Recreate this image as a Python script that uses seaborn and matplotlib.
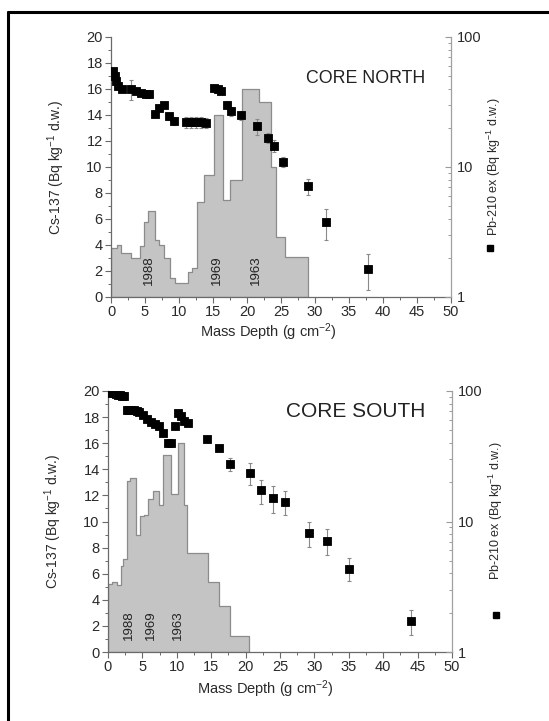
import numpy as np
import pandas as pd
import matplotlib
matplotlib.use("Agg")
import matplotlib.pyplot as plt
import seaborn as sns
from matplotlib.lines import Line2D
from matplotlib.ticker import MultipleLocator, LogLocator, NullFormatter, FixedLocator, FixedFormatter

# ---------------- data ----------------
# CORE NORTH  Cs-137 step histogram (bin edges in g cm-2, activity Bq/kg)
north_cs_edges = [0, 0.9, 1.5, 3.0, 4.2, 4.9, 5.5, 6.4, 7.1, 7.8, 8.7, 9.4, 11.3, 11.9,
                  12.7, 13.7, 15.2, 16.4, 17.5, 19.2, 21.7, 23.5, 24.3, 25.6, 29.0]
north_cs_values = [3.8, 4.0, 3.4, 3.0, 3.9, 5.8, 6.6, 4.4, 4.0, 3.0, 1.5, 1.1, 1.9, 2.2,
                   7.3, 9.4, 14.0, 7.5, 9.0, 16.0, 15.0, 10.0, 4.6, 3.1]
# CORE NORTH  Pb-210 ex
north_pb_depth = [0.3, 0.6, 0.8, 1.1, 1.6, 2.9, 3.7, 4.4, 5.1, 5.6, 6.4, 7.1, 7.8, 8.6, 9.3,
                  11.0, 11.8, 12.5, 13.2, 14.0, 15.2, 15.7, 16.2, 17.1, 17.6, 19.1, 21.5,
                  23.1, 23.9, 25.3, 28.9, 31.6, 37.8]
north_pb_values = [55, 50, 46, 42, 39.5, 39.5, 38.3, 37.2, 36.5, 36.3, 25.6, 28.5, 30.2, 24.5, 22.7,
                   22.1, 22.1, 22.1, 22.1, 21.8, 40.6, 39.5, 38.3, 30.2, 26.8, 25.0, 20.6,
                   16.8, 14.5, 11.0, 7.1, 3.76, 1.64]
north_pb_err = [2, 2, 2, 2, 2, 7, 2, 2, 2, 2, 1.5, 1.5, 1.5, 1.5, 1.5,
                2, 2, 2, 2, 2, 2, 2, 2, 2, 2, 2, 3,
                1.5, 1.5, 1.0, 1.05, 1.0, 0.5]

# CORE SOUTH  Cs-137 step histogram
south_cs_edges = [0, 0.6, 1.3, 1.9, 2.2, 2.7, 3.2, 4.0, 4.6, 5.2, 5.8, 6.6, 7.4, 8.0,
                  9.2, 10.2, 11.0, 11.5, 14.5, 16.1, 17.7, 20.5]
south_cs_values = [5.2, 5.4, 5.1, 6.6, 7.1, 13.1, 13.3, 9.0, 10.4, 10.5, 11.7, 12.3, 11.3,
                   15.1, 12.1, 16.0, 11.3, 7.6, 5.4, 3.5, 1.2]
# CORE SOUTH  Pb-210 ex
south_pb_depth = [0.2, 0.5, 0.8, 1.1, 1.4, 1.7, 2.0, 2.3, 2.7, 3.0, 3.4, 3.8, 4.2, 4.5,
                  5.1, 5.7, 6.3, 6.9, 7.4, 8.0, 8.7, 9.2, 9.7, 10.2, 10.6, 11.1, 11.6,
                  14.4, 16.2, 17.7, 20.7, 22.3, 24.0, 25.7, 29.2, 31.8, 35.1, 44.1]
south_pb_values = [98, 97, 96, 95, 94, 93, 92, 91, 71, 71, 71, 71, 70.5, 69,
                   66, 61.4, 57.9, 55.6, 53.9, 48.0, 39.7, 39.7, 54, 68, 64, 59, 57,
                   42.6, 36.4, 27.4, 23.4, 17.3, 15.2, 14.2, 8.2, 7.1, 4.35, 1.73]
south_pb_err = [1, 1, 1, 1, 1, 1, 1, 1, 1, 1, 1, 1, 1, 1,
                1, 1, 1, 1, 1, 1, 1.5, 1.5, 1.5, 1.5, 1.5, 1.5, 1.5,
                2, 2, 3, 4.5, 3.6, 3.5, 3, 1.8, 1.6, 0.86, 0.38]

year_labels = ["1988", "1969", "1963"]
north_year_depth = [5.6, 15.6, 21.3]
south_year_depth = [3.1, 6.3, 10.1]

x_ticks = [0, 5, 10, 15, 20, 25, 30, 35, 40, 45, 50]
cs_ticks = [0, 2, 4, 6, 8, 10, 12, 14, 16, 18, 20]
pb_ticks = [1, 10, 100]

# ---------------- style ----------------
sns.set_theme(style="ticks")
plt.rcParams["font.family"] = ["Liberation Sans", "DejaVu Sans"]
plt.rcParams["mathtext.fontset"] = "custom"
plt.rcParams["mathtext.rm"] = "Liberation Sans"
plt.rcParams["mathtext.it"] = "Liberation Sans"

TXT = "#2a2a2a"
SPINE = "#6a6a6a"
FILL = "#c4c4c4"
EDGE = "#8c8c8c"

fig = plt.figure(figsize=(5.49, 7.21), dpi=100)


def panel(rect, edges, values, pb_d, pb_v, pb_e, title, title_size, year_d, title_xy,
          xl_coords, yl_coords, yr_coords, sym_xy):
    ax = fig.add_axes(rect)
    edge_list = [float(e) for e in edges]
    mids = [(a + b) / 2 for a, b in zip(edge_list[:-1], edge_list[1:])]
    df = pd.DataFrame({"depth": mids, "cs": values})
    sns.histplot(data=df, x="depth", weights="cs", bins=edge_list, element="step", fill=True,
                 facecolor=FILL, edgecolor=EDGE, linewidth=0.9, alpha=1, ax=ax)
    ax.set_xlim(0, 50)
    ax.set_ylim(0, 20)
    ax.xaxis.set_major_locator(FixedLocator(x_ticks))
    ax.xaxis.set_minor_locator(MultipleLocator(2.5))
    ax.yaxis.set_major_locator(FixedLocator(cs_ticks))
    ax.yaxis.set_minor_locator(MultipleLocator(1))
    ax.tick_params(axis="both", which="major", direction="out", length=4, width=0.8,
                   color=SPINE, labelsize=10.5, labelcolor=TXT, pad=2)
    ax.tick_params(axis="both", which="minor", direction="out", length=2, width=0.7, color=SPINE)
    for s in ["top", "right"]:
        ax.spines[s].set_visible(False)
    for s in ["left", "bottom"]:
        ax.spines[s].set_color(SPINE)
        ax.spines[s].set_linewidth(0.9)
    ax.set_xlabel("Mass Depth (g cm$^{-2}$)", fontsize=10.5, color=TXT)
    ax.set_ylabel("Cs-137 (Bq kg$^{-1}$ d.w.)", fontsize=10, color=TXT)
    ax.xaxis.set_label_coords(*xl_coords)
    ax.yaxis.set_label_coords(*yl_coords)

    for lab, d in zip(year_labels, year_d):
        ax.text(d, 0.9, lab, rotation=90, ha="center", va="bottom", fontsize=9.5,
                color="#222222")

    ax.text(title_xy[0], title_xy[1], title, ha="right", va="center", color="#222222",
            fontsize=title_size)

    ax2 = ax.twinx()
    ax2.set_yscale("log")
    ax2.set_ylim(1, 100)
    ax2.set_xlim(0, 50)
    ax2.errorbar(pb_d, pb_v, yerr=pb_e, fmt="none", ecolor="#8a8a8a", elinewidth=0.8,
                 capsize=1.5, capthick=0.8, zorder=3)
    sns.scatterplot(x=pb_d, y=pb_v, marker="s", s=38, color="black", edgecolor="black",
                    linewidth=0.6, ax=ax2, zorder=4)
    ax2.yaxis.set_major_locator(FixedLocator(pb_ticks))
    ax2.yaxis.set_major_formatter(FixedFormatter(["1", "10", "100"]))
    ax2.yaxis.set_minor_locator(LogLocator(base=10, subs=np.arange(2, 10)))
    ax2.yaxis.set_minor_formatter(NullFormatter())
    ax2.tick_params(axis="y", which="major", direction="in", length=4, width=0.8,
                    color="#9a9a9a", labelsize=10.5, labelcolor=TXT, pad=4)
    ax2.tick_params(axis="y", which="minor", direction="in", length=2, width=0.7, color="#9a9a9a")
    for s in ["top", "left", "bottom"]:
        ax2.spines[s].set_visible(False)
    ax2.spines["right"].set_color("#a0a0a0")
    ax2.spines["right"].set_linewidth(0.9)
    ax2.set_ylabel("Pb-210 ex (Bq kg$^{-1}$ d.w.)", fontsize=9, color=TXT)
    ax2.yaxis.set_label_coords(*yr_coords)
    ax2.legend(handles=[Line2D([], [], marker="s", ls="", color="black", ms=4)], labels=[""],
               loc="center", bbox_to_anchor=sym_xy, frameon=False, handlelength=0.6,
               handletextpad=0, borderpad=0, borderaxespad=0)
    return ax, ax2


W, H = 549.0, 721.0
# top panel: x 111..451 px, y 37..297 px
panel([111 / W, (H - 297) / H, 340 / W, 260 / H],
      north_cs_edges, north_cs_values, north_pb_depth, north_pb_values, north_pb_err,
      "CORE NORTH", 12.8, north_year_depth, (46.2, 16.8),
      (0.464, -0.095), (-0.129, 0.5), (1.100, 0.5), (1.115, 0.185))
# bottom panel: x 108..452 px, y 391..652 px
panel([108 / W, (H - 652) / H, 344 / W, 261 / H],
      south_cs_edges, south_cs_values, south_pb_depth, south_pb_values, south_pb_err,
      "CORE SOUTH", 15, south_year_depth, (46.1, 18.4),
      (0.459, -0.102), (-0.128, 0.5), (1.100, 0.54), (1.128, 0.138))

# outer frame (left and top edges visible in the reference)
fig.add_artist(Line2D([8 / W, 8 / W], [-0.01, 1 - 12 / H], transform=fig.transFigure,
                      color="black", lw=2.2))
fig.add_artist(Line2D([8 / W, 1.01], [1 - 12 / H, 1 - 12 / H], transform=fig.transFigure,
                      color="black", lw=2.2))

fig.savefig("out.png", dpi=100)
